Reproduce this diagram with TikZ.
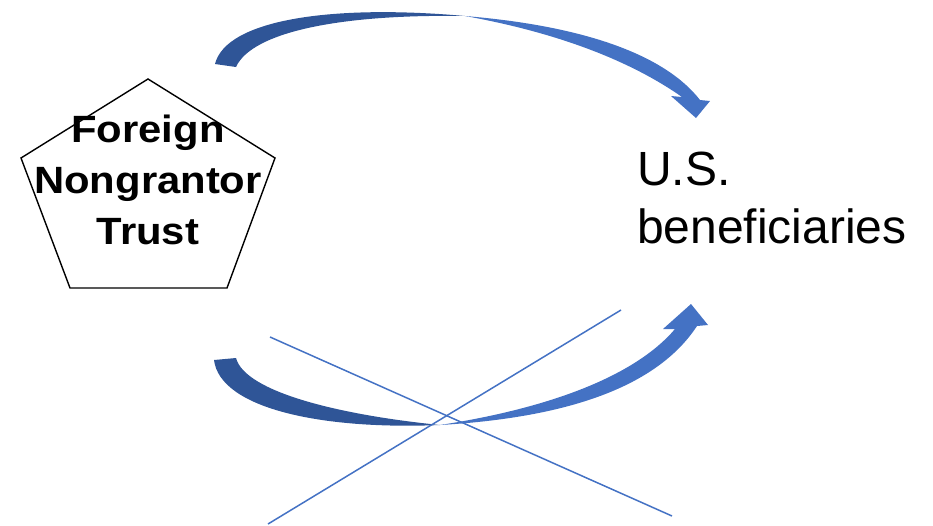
\documentclass[tikz,border=0pt]{standalone}
\usepackage{fontspec}
\setmainfont{Liberation Sans}
\newfontfamily\trustfont[FakeStretch=1.1]{Liberation Sans}
\usetikzlibrary{positioning}
\definecolor{arrowdark}{HTML}{2F5597}
\definecolor{arrowlight}{HTML}{4472C4}
\tikzset{
  trustlabel/.style={ % bold text inside the pentagon
    font=\trustfont\bfseries\fontsize{38}{51}\selectfont,
    align=center, inner sep=0pt, anchor=base
  },
  benlabel/.style={ % plain text on the right
    font=\fontsize{48}{58}\selectfont,
    align=left, inner sep=0pt, anchor=base west
  },
  backface/.style={fill=arrowdark, draw=none},
  frontface/.style={fill=arrowlight, draw=none},
  crossline/.style={draw=arrowlight, line width=1.5pt}
}

\begin{document}
\begin{tikzpicture}[x=1pt, y=-1pt]
  \useasboundingbox (0,0) rectangle (933,525);

  % pentagon and its label
  \draw[line width=1.4pt, line join=miter]
    (148,79) -- (275,158) -- (227,288) -- (70,288) -- (21,158) -- cycle;
  \node[trustlabel] (trust) at (148,244) {Foreign\\Nongrantor\\Trust};

  % right label
  \node[benlabel] (ben) at (637,243) {U.S.\\beneficiaries};

  % upper curved arrow
  \path[backface] (215,64) .. controls (226,20) and (330,4) .. (465,16)
    .. controls (340,14) and (252,32) .. (236,67) -- cycle;
  \path[frontface] (465,16) .. controls (585,26) and (665,55) .. (700,100)
    -- (710,101) -- (696,118) -- (671,96) -- (682,97)
    .. controls (635,64) and (565,34) .. (465,16) -- cycle;

  % lower curved arrow
  \path[backface] (214,360) .. controls (220,408) and (320,430) .. (440,425)
    .. controls (340,415) and (245,392) .. (236,358) -- cycle;
  \path[frontface] (440,425) .. controls (560,418) and (655,390) .. (697,326)
    -- (708,325) -- (691,304) -- (663,329) -- (675,329)
    .. controls (635,376) and (550,408) .. (440,425) -- cycle;

  % crossing out
  \coordinate (xa) at (270,337);
  \coordinate (xb) at (672,516);
  \coordinate (xc) at (621,310);
  \coordinate (xd) at (268,524);
  \draw[crossline] (xa) -- (xb);
  \draw[crossline] (xc) -- (xd);
\end{tikzpicture}
\end{document}
